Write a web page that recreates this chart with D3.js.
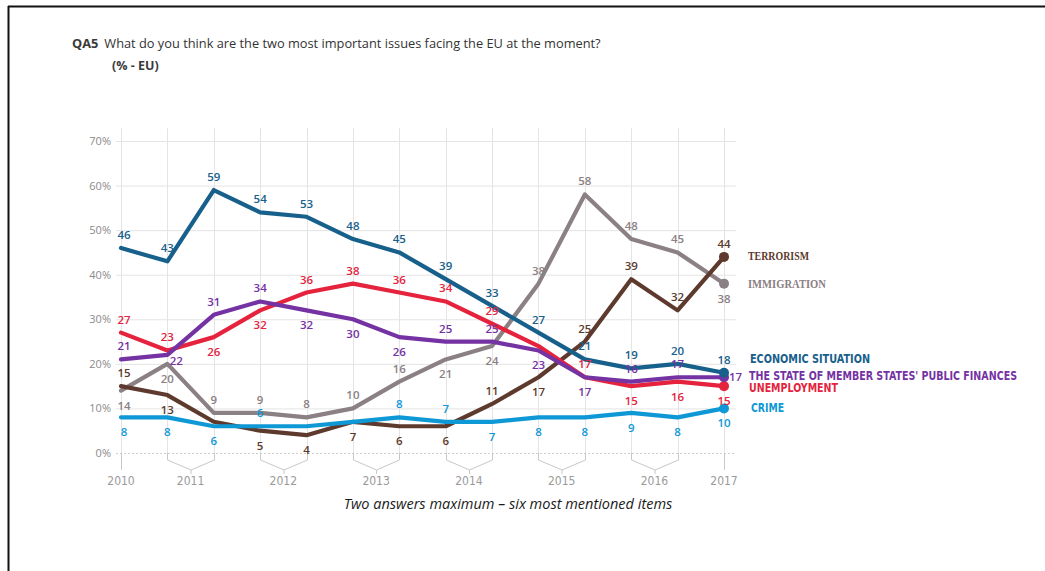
<!DOCTYPE html>
<html>
<head>
<meta charset="utf-8">
<script src="https://cdn.jsdelivr.net/npm/d3@7"></script>
<style>
  body { margin: 0; background: #fff; }
  svg { display: block; }
</style>
</head>
<body>
<svg id="chart" width="1045" height="571"></svg>
<script>
// Survey waves (one per Eurobarometer wave), grouped by year on the axis
const waves = ["2010-2", "2011-1", "2011-2", "2012-1", "2012-2", "2013-1", "2013-2",
               "2014-1", "2014-2", "2015-1", "2015-2", "2016-1", "2016-2", "2017-1"];
const yearLabels = ["2010", "2011", "2012", "2013", "2014", "2015", "2016", "2017"];
const yearWaves = [["2010-2"], ["2011-1", "2011-2"], ["2012-1", "2012-2"], ["2013-1", "2013-2"],
                   ["2014-1", "2014-2"], ["2015-1", "2015-2"], ["2016-1", "2016-2"], ["2017-1"]];
const yTicks = [0, 10, 20, 30, 40, 50, 60, 70];

// Values in % (EU)
const terrorism          = [15, 13, 7, 5, 4, 7, 6, 6, 11, 17, 25, 39, 32, 44];
const immigration        = [14, 20, 9, 9, 8, 10, 16, 21, 24, 38, 58, 48, 45, 38];
const economicSituation  = [46, 43, 59, 54, 53, 48, 45, 39, 33, 27, 21, 19, 20, 18];
const publicFinances     = [21, 22, 31, 34, 32, 30, 26, 25, 25, 23, 17, 16, 17, 17];
const unemployment       = [27, 23, 26, 32, 36, 38, 36, 34, 29, 24, 17, 15, 16, 15];
const crime              = [8, 8, 6, 6, 6, 7, 8, 7, 7, 8, 8, 9, 8, 10];

const seriesNames = ["TERRORISM", "IMMIGRATION", "ECONOMIC SITUATION",
                     "THE STATE OF MEMBER STATES' PUBLIC FINANCES", "UNEMPLOYMENT", "CRIME"];

// Value-label placement per point: a = above, b = below, r = right, d = below-right, - = none
const labelPlacement = {
  terrorism:         "ab-bbbbbabaaaa",
  immigration:       "bbaaaaabbaaaab",
  economicSituation: "aaaaaaaaaaaaaa",
  publicFinances:    "adaabbbaabbaar",
  unemployment:      "aabbaaaaa-abbb",
  crime:             "bbba--aabbbbbb"
};

const series = [
  { key: "immigration",       name: seriesNames[1], values: immigration,       color: "#8b8083", legendY: 284, legendX: 748, serif: true,  legendW: 78 },
  { key: "terrorism",         name: seriesNames[0], values: terrorism,         color: "#5d3a2d", legendY: 256, legendX: 748, serif: true,  legendW: 61 },
  { key: "crime",             name: seriesNames[5], values: crime,             color: "#0e98d6", legendY: 408, legendX: 751, serif: false, legendW: 33 },
  { key: "unemployment",      name: seriesNames[4], values: unemployment,      color: "#e5233d", legendY: 388, legendX: 749, serif: false, legendW: 89 },
  { key: "publicFinances",    name: seriesNames[3], values: publicFinances,    color: "#7432a3", legendY: 376, legendX: 749, serif: false, legendW: 268 },
  { key: "economicSituation", name: seriesNames[2], values: economicSituation, color: "#17608b", legendY: 359, legendX: 750, serif: false, legendW: 120 }
];

const svg = d3.select("#chart");

// Frame lines
svg.append("line").attr("x1", 8.5).attr("x2", 8.5).attr("y1", 6).attr("y2", 571)
  .attr("stroke", "#111").attr("stroke-width", 2);
svg.append("line").attr("x1", 8).attr("x2", 1045).attr("y1", 6.5).attr("y2", 6.5)
  .attr("stroke", "#111").attr("stroke-width", 2);

// Title
const title = svg.append("text").attr("x", 72).attr("y", 48)
  .attr("font-family", "'Open Sans', 'Noto Sans', sans-serif").attr("font-size", 12.8).attr("fill", "#333");
title.append("tspan").attr("font-weight", 700).attr("fill", "#3a3a3a").text("QA5");
title.append("tspan").attr("dx", 6).text("What do you think are the two most important issues facing the EU at the moment?");
svg.append("text").attr("x", 112).attr("y", 70)
  .attr("font-family", "'Open Sans', 'Noto Sans', sans-serif").attr("font-size", 12.5)
  .attr("font-weight", 700).attr("fill", "#3a3a3a").text("(% - EU)");

// Scales
const x = d3.scalePoint().domain(waves).range([121, 724]);
const y = d3.scaleLinear().domain([0, 70]).range([453, 141]);

// Grid
const grid = svg.append("g");
grid.selectAll("line.h").data(yTicks.filter(d => d > 0)).join("line")
  .attr("x1", 116).attr("x2", 736)
  .attr("y1", d => y(d) + 0.5).attr("y2", d => y(d) + 0.5)
  .attr("stroke", "#e4e4e4").attr("stroke-width", 1);
grid.append("line").attr("x1", 116).attr("x2", 736).attr("y1", y(0) + 0.5).attr("y2", y(0) + 0.5)
  .attr("stroke", "#cfcfcf").attr("stroke-width", 1).attr("stroke-dasharray", "2,2");
grid.selectAll("line.v").data(waves).join("line")
  .attr("x1", d => Math.round(x(d)) + 0.5).attr("x2", d => Math.round(x(d)) + 0.5)
  .attr("y1", 128).attr("y2", y(0))
  .attr("stroke", "#e4e4e4").attr("stroke-width", 1);

// Y axis labels
const yAxis = d3.axisLeft(y).tickValues(yTicks).tickFormat(d => d + "%").tickSize(0).tickPadding(0);
const yG = svg.append("g").attr("transform", "translate(111,0)").call(yAxis);
yG.select(".domain").remove();
yG.selectAll("text").attr("font-family", "'Open Sans', 'Noto Sans', sans-serif")
  .attr("font-size", 11).attr("fill", "#8a8a8a");

// X axis year brackets
const xG = svg.append("g").attr("stroke", "#c8c8c8").attr("fill", "none").attr("stroke-width", 1);
yearWaves.forEach((grp, i) => {
  if (grp.length === 1) {
    const xx = Math.round(x(grp[0])) + 0.5;
    xG.append("line").attr("x1", xx).attr("x2", xx).attr("y1", y(0)).attr("y2", y(0) + 17);
  } else {
    const x1 = Math.round(x(grp[0])) + 0.5, x2 = Math.round(x(grp[1])) + 0.5;
    const mid = (x1 + x2) / 2;
    xG.append("path").attr("d",
      `M${x1},${y(0)} L${x1},${y(0) + 7} L${mid},${y(0) + 17} L${x2},${y(0) + 7} L${x2},${y(0)}`);
    xG.append("line").attr("x1", mid).attr("x2", mid).attr("y1", y(0) + 17).attr("y2", y(0) + 21);
  }
});
svg.append("g").selectAll("text").data(yearLabels).join("text")
  .attr("x", (d, i) => d3.mean(yearWaves[i], w => x(w)))
  .attr("y", 485)
  .attr("text-anchor", "middle")
  .attr("font-family", "'Liberation Sans Narrow', 'DejaVu Sans Condensed', sans-serif")
  .attr("font-size", 12).attr("fill", "#9a9a9a")
  .text(d => d);

// Lines
const line = d3.line().x((d, i) => x(waves[i])).y(d => y(d));
const linesG = svg.append("g");
series.forEach(s => {
  linesG.append("path").datum(s.values)
    .attr("d", line).attr("fill", "none").attr("stroke", s.color)
    .attr("stroke-width", 4.2).attr("stroke-linejoin", "round").attr("stroke-linecap", "round");
  const last = s.values.length - 1;
  linesG.append("circle").attr("cx", x(waves[last])).attr("cy", y(s.values[last]))
    .attr("r", 5).attr("fill", s.color);
});

// Value labels
const labelsG = svg.append("g")
  .attr("font-family", "'Open Sans', 'Noto Sans', sans-serif")
  .attr("font-size", 11.5).attr("font-weight", 600);
series.forEach(s => {
  const place = labelPlacement[s.key];
  s.values.forEach((v, i) => {
    const p = place[i];
    if (p === "-") return;
    let dx = i === 0 ? 3 : 0, dy = -9, anchor = "middle";
    if (p === "b") dy = 19;
    if (p === "r") { dx = 5; dy = 4; anchor = "start"; }
    if (p === "d") { dx = 9; dy = 10; }
    labelsG.append("text")
      .attr("x", x(waves[i]) + dx).attr("y", y(v) + dy)
      .attr("text-anchor", anchor).attr("fill", s.color)
      .text(v);
  });
});

// Series names at line ends
const legendG = svg.append("g").attr("font-weight", 700).attr("font-size", 11.5);
series.forEach(s => {
  legendG.append("text")
    .attr("x", s.legendX).attr("y", s.legendY + 4)
    .attr("font-family", s.serif ? "'Liberation Serif', 'DejaVu Serif', serif"
                                 : "'Liberation Sans Narrow', 'DejaVu Sans Condensed', sans-serif")
    .attr("textLength", s.legendW).attr("lengthAdjust", "spacingAndGlyphs")
    .attr("fill", s.color).text(s.name);
});

// Footnote
svg.append("text").attr("x", 508).attr("y", 509).attr("text-anchor", "middle")
  .attr("font-family", "'Open Sans', 'Noto Sans', sans-serif").attr("font-style", "italic")
  .attr("font-size", 14.5).attr("fill", "#1a1a1a")
  .text("Two answers maximum – six most mentioned items");
</script>
</body>
</html>
